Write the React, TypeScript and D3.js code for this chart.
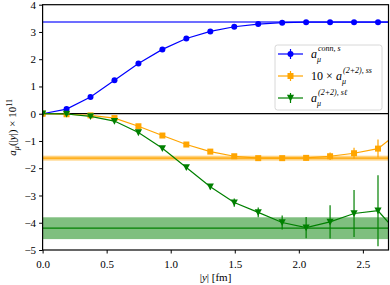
import React, {useEffect, useRef} from 'react'
import * as d3 from 'd3'

// |y| positions in fm (step ~0.187 fm)
const yDist = [0, 0.187, 0.374, 0.561, 0.748, 0.935, 1.122, 1.309, 1.496, 1.683, 1.87, 2.057, 2.244, 2.431, 2.618, 2.805]

const connS = [0, 0.17, 0.61, 1.23, 1.84, 2.36, 2.76, 3.02, 3.19, 3.29, 3.34, 3.36, 3.36, 3.36, 3.36, 3.36]
const connSErr = [0, 0, 0, 0, 0, 0, 0, 0, 0, 0, 0, 0, 0, 0, 0, 0]

const disSS = [0, -0.02, -0.06, -0.16, -0.46, -0.8, -1.13, -1.39, -1.56, -1.63, -1.63, -1.62, -1.56, -1.45, -1.28, -0.6]
const disSSErr = [0, 0, 0, 0.01, 0.01, 0.02, 0.02, 0.03, 0.03, 0.04, 0.06, 0.1, 0.14, 0.2, 0.33, 0.5]

const disSL = [0, -0.01, -0.1, -0.27, -0.69, -1.27, -1.97, -2.68, -3.26, -3.62, -3.99, -4.18, -3.97, -3.66, -3.56, -4.55]
const disSLErr = [0, 0, 0.01, 0.02, 0.03, 0.05, 0.07, 0.1, 0.15, 0.18, 0.26, 0.39, 0.61, 0.86, 1.3, 1.6]

// fitted plateau values: [centre, half width]
const bandConn = [3.365, 0.01]
const bandSS = [-1.63, 0.09]
const bandSL = [-4.2, 0.4]

const xTicks = [0, 0.5, 1.0, 1.5, 2.0, 2.5]
const yTicks = [-5, -4, -3, -2, -1, 0, 1, 2, 3, 4]

function App() {
    const ref = useRef(null)

    useEffect(() => {
        draw()
    }, [])

    function draw() {
        const W = 390, H = 285
        const margin = {top: 4.7, right: 1.5, bottom: 35, left: 42.6}
        const width = W - margin.left - margin.right
        const height = H - margin.top - margin.bottom
        const font = '"Liberation Serif", "DejaVu Serif", serif'

        d3.select(ref.current).selectAll('*').remove()

        const svg = d3.select(ref.current)
            .append('svg')
            .attr('width', W)
            .attr('height', H)
            .style('position', 'absolute')
            .style('left', '0px')
            .style('top', '0px')
            .style('background', '#fff')

        svg.append('defs').append('clipPath').attr('id', 'plotclip')
            .append('rect').attr('width', width).attr('height', height)

        const g = svg.append('g')
            .attr('transform', 'translate(' + margin.left + ',' + margin.top + ')')

        const x = d3.scaleLinear().domain([0, 2.7]).range([0, width])
        const y = d3.scaleLinear().domain([-5, 4]).range([height, 0])

        const plot = g.append('g').attr('clip-path', 'url(#plotclip)')

        // bands
        const bands = [
            {b: bandSS, c: 'orange'},
            {b: bandSL, c: 'green'},
            {b: bandConn, c: 'blue'}
        ]
        bands.forEach(function (d) {
            plot.append('rect')
                .attr('x', 0).attr('width', width)
                .attr('y', y(d.b[0] + d.b[1]))
                .attr('height', y(d.b[0] - d.b[1]) - y(d.b[0] + d.b[1]))
                .attr('fill', d.c).attr('fill-opacity', 0.5)
            plot.append('line')
                .attr('x1', 0).attr('x2', width)
                .attr('y1', y(d.b[0])).attr('y2', y(d.b[0]))
                .attr('stroke', d.c).attr('stroke-width', 1.2)
        })

        plot.append('line')
            .attr('x1', 0).attr('x2', width)
            .attr('y1', y(0)).attr('y2', y(0))
            .attr('stroke', 'black').attr('stroke-width', 1.2)

        const series = [
            {v: connS, e: connSErr, c: 'blue', m: 'circle'},
            {v: disSS, e: disSSErr, c: 'orange', m: 'square'},
            {v: disSL, e: disSLErr, c: 'green', m: 'tri'}
        ]

        const line = d3.line()
            .x(function (d) { return x(d[0]) })
            .y(function (d) { return y(d[1]) })

        function marker(sel, m, c) {
            if (m === 'circle') {
                sel.append('circle').attr('r', 3).attr('fill', c)
            } else if (m === 'square') {
                sel.append('rect').attr('x', -3).attr('y', -3).attr('width', 6).attr('height', 6).attr('fill', c)
            } else {
                sel.append('path').attr('d', 'M-3.6,-3.2L3.6,-3.2L0,3.6Z').attr('fill', c)
            }
        }

        series.forEach(function (s) {
            const pts = yDist.map(function (d, i) { return [d, s.v[i], s.e[i]] })
            plot.append('path')
                .attr('d', line(pts))
                .attr('fill', 'none')
                .attr('stroke', s.c)
                .attr('stroke-width', 1.2)
            plot.selectAll(null)
                .data(pts)
                .enter()
                .append('line')
                .attr('x1', function (d) { return x(d[0]) })
                .attr('x2', function (d) { return x(d[0]) })
                .attr('y1', function (d) { return y(d[1] + d[2]) })
                .attr('y2', function (d) { return y(d[1] - d[2]) })
                .attr('stroke', s.c)
                .attr('stroke-width', 1.2)
            plot.selectAll(null)
                .data(pts)
                .enter()
                .append('g')
                .attr('transform', function (d) { return 'translate(' + x(d[0]) + ',' + y(d[1]) + ')' })
                .each(function () { marker(d3.select(this), s.m, s.c) })
        })

        // axes
        const xAxis = g.append('g')
            .attr('transform', 'translate(0,' + height + ')')
            .call(d3.axisBottom(x).tickValues(xTicks).tickFormat(d3.format('.1f')).tickSizeOuter(0).tickSize(3.5))
        const yAxis = g.append('g')
            .call(d3.axisLeft(y).tickValues(yTicks).tickFormat(function (d) { return d < 0 ? '\u2212' + Math.abs(d) : String(d) }).tickSizeOuter(0).tickSize(3.5))
        ;[xAxis, yAxis].forEach(function (a) {
            a.select('.domain').remove()
            a.selectAll('line').attr('stroke', 'black').attr('stroke-width', 1)
            a.selectAll('text').attr('font-family', font).attr('font-size', 11).attr('fill', 'black')
        })
        xAxis.selectAll('text').attr('dy', '1.05em')

        g.append('rect')
            .attr('width', width).attr('height', height)
            .attr('fill', 'none').attr('stroke', 'black').attr('stroke-width', 1.2)

        // axis labels
        const xl = svg.append('text')
            .attr('x', margin.left + width / 2)
            .attr('y', 281)
            .attr('text-anchor', 'middle')
            .attr('font-family', font).attr('font-size', 11)
        xl.append('tspan').text('|')
        xl.append('tspan').attr('font-style', 'italic').text('y')
        xl.append('tspan').text('| [fm]')

        const yl = svg.append('text')
            .attr('transform', 'translate(16,' + (margin.top + height / 2) + ') rotate(-90)')
            .attr('text-anchor', 'middle')
            .attr('font-family', font).attr('font-size', 11)
        yl.append('tspan').attr('font-style', 'italic').text('a')
        yl.append('tspan').attr('font-style', 'italic').attr('font-size', 8).attr('dy', 3).text('\u03bc')
        yl.append('tspan').attr('dy', -3).text('(|')
        yl.append('tspan').attr('font-style', 'italic').text('y')
        yl.append('tspan').text('|) \u00d7 10')
        yl.append('tspan').attr('font-size', 8).attr('dy', -4).text('11')

        // legend
        const lg = svg.append('g')
        lg.append('rect')
            .attr('x', 275).attr('y', 45).attr('width', 107).attr('height', 65)
            .attr('rx', 2.5)
            .attr('fill', 'white').attr('fill-opacity', 0.8)
            .attr('stroke', '#d8d8d8').attr('stroke-width', 1)

        const legendRows = [
            {c: 'blue', m: 'circle', pre: '', sup: 'conn, s', y: 54},
            {c: 'orange', m: 'square', pre: '10 \u00d7 ', sup: '(2+2), ss', y: 76},
            {c: 'green', m: 'tri', pre: '', sup: '(2+2), s\u2113', y: 98}
        ]
        legendRows.forEach(function (r) {
            lg.append('line').attr('x1', 278).attr('x2', 303).attr('y1', r.y).attr('y2', r.y)
                .attr('stroke', r.c).attr('stroke-width', 1.2)
            lg.append('line').attr('x1', 290.5).attr('x2', 290.5).attr('y1', r.y - 5).attr('y2', r.y + 5)
                .attr('stroke', r.c).attr('stroke-width', 1.2)
            marker(lg.append('g').attr('transform', 'translate(290.5,' + r.y + ')'), r.m, r.c)
            let x0 = 311
            if (r.pre) {
                lg.append('text').attr('x', x0).attr('y', r.y + 4)
                    .attr('font-family', font).attr('font-size', 12).text('10 \u00d7')
                x0 = 336
            }
            lg.append('text').attr('x', x0).attr('y', r.y + 3.5)
                .attr('font-family', font).attr('font-size', 12).attr('font-style', 'italic').text('a')
            lg.append('text').attr('x', x0 + 6).attr('y', r.y + 8)
                .attr('font-family', font).attr('font-size', 8).attr('font-style', 'italic').text('\u03bc')
            lg.append('text').attr('x', x0 + 7).attr('y', r.y - 3)
                .attr('font-family', font).attr('font-size', 8).attr('font-style', 'italic').text(r.sup)
        })
    }

    return (
        <div>
            <div ref={ref}></div>
        </div>
    )
}

export default App
